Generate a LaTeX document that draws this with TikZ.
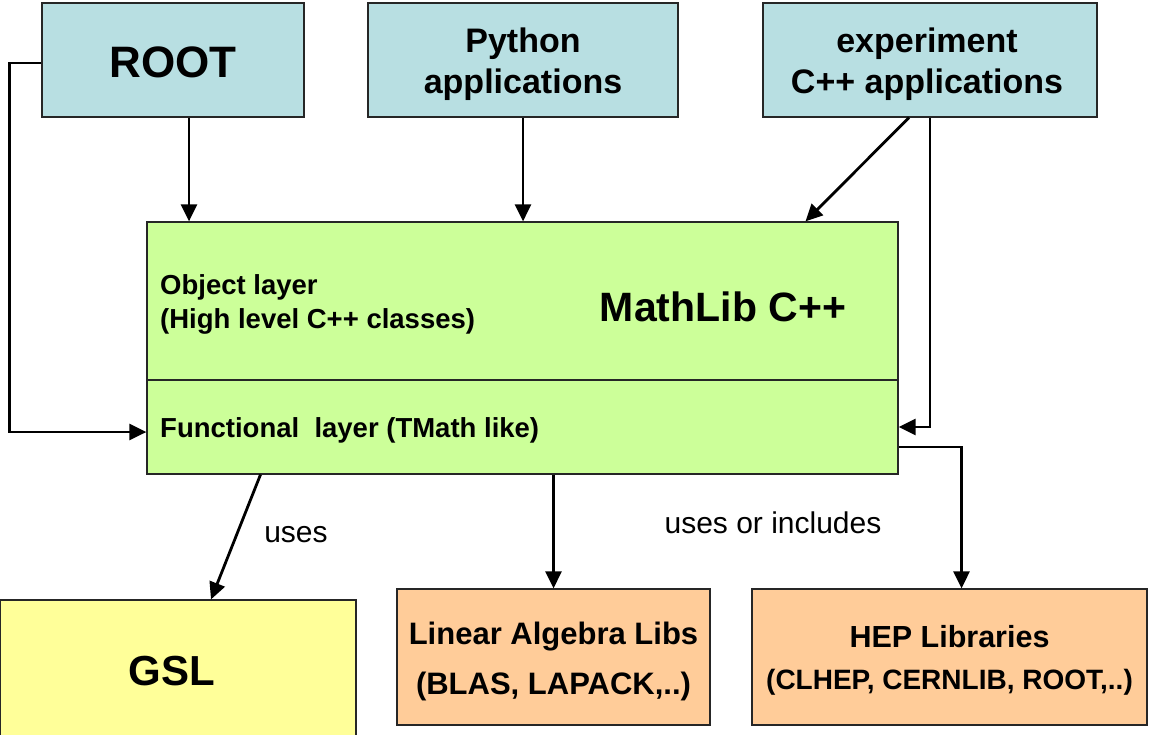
\documentclass[tikz,border=0pt]{standalone}
\usepackage{fontspec}
\setmainfont{Liberation Sans}
\usetikzlibrary{arrows.meta}
\definecolor{appblue}{HTML}{B8DFE2}
\definecolor{libgreen}{HTML}{CCFF99}
\definecolor{gslyellow}{HTML}{FFFF99}
\definecolor{extorange}{HTML}{FFCC99}
\tikzset{
  box/.style={draw=black!85, line width=1.2pt, inner sep=0pt, align=center},
  appbox/.style={box, fill=appblue, minimum height=114},
  apptext/.style={align=center, inner sep=0pt, font=\fontsize{34}{41}\selectfont\bfseries},
  layerbox/.style={box, fill=libgreen, minimum width=751},
  layertext/.style={anchor=west, align=left, inner sep=0pt, font=\fontsize{27.5}{34}\selectfont\bfseries},
  extbox/.style={box, fill=extorange, minimum height=136},
  arr/.style={line width=2.8pt, -{Triangle[length=17pt,width=16pt]}}
}
\begin{document}
\begin{tikzpicture}[x=1pt,y=-1pt]
			\useasboundingbox (0,0) rectangle (1150,735);
			\node[appbox, minimum width=262, font=\fontsize{44}{50}\selectfont\bfseries] (root) at (173,60) {};
			\node[appbox, minimum width=310] (python) at (523,60) {};
			\node[appbox, minimum width=334] (expcpp) at (930,60) {};
			\node[apptext, font=\fontsize{44}{50}\selectfont\bfseries] (roottext) at ([yshift=-2]root.center) {ROOT};
			\node[apptext] (pythontext) at ([yshift=-4]python.center) {Python\\applications};
			\node[apptext] (expcpptext) at ([yshift=-4,xshift=-3]expcpp.center) {experiment\\C++ applications};
			\node[layerbox, minimum height=158] (objlayer) at (522.5,301) {};
			\node[layerbox, minimum height=94] (funclayer) at (522.5,427) {};
			\node[layertext] (objtext) at (160,304) {Object layer\\(High level C++ classes)};
			\node[font=\fontsize{41}{47}\selectfont\bfseries] (mathlib) at (723,307) {MathLib C++};
			\node[layertext] (functext) at (160,430) {Functional\ \ layer (TMath like)};
			\node[box, fill=gslyellow, minimum width=356, minimum height=140] (gsl) at (178,670) {};
			\node[extbox, minimum width=313] (linalg) at (553.5,657) {};
			\node[extbox, minimum width=395] (heplib) at (949.5,657) {};
			\node[apptext, font=\fontsize{42}{48}\selectfont\bfseries] (gsltext) at ([xshift=-6,yshift=-1]gsl.center) {GSL};
			\node[apptext, font=\fontsize{31}{50}\selectfont\bfseries] (linalgtext) at ([yshift=-4]linalg.center) {Linear Algebra Libs\\(BLAS, LAPACK,..)};
			\node[apptext, font=\fontsize{30.5}{42}\selectfont\bfseries] (heptext) at ([yshift=-3]heplib.center) {HEP Libraries\\{\fontsize{28}{42}\selectfont(CLHEP, CERNLIB, ROOT,..)}};
			\node[font=\fontsize{30}{34}\selectfont] (uses) at (296,535) {uses};
			\node[font=\fontsize{30}{34}\selectfont] (usesinc) at (773,523) {uses or includes};
			\draw[arr] ([xshift=16]root.south) -- ([xshift=16]root.south |- objlayer.north);
			\draw[arr] (python.south) -- (python.south |- objlayer.north);
			\draw[arr] ([xshift=-21]expcpp.south) -- ([xshift=283]objlayer.north);
			\draw[arr] (expcpp.south) |- (funclayer.east);
			\draw[arr] ([yshift=-3]root.west) -- ++(-32,0) |- ([yshift=-5]funclayer.west);
			\draw[arr] ([xshift=-262]funclayer.south) -- ([xshift=33]gsl.north);
			\draw[arr] (funclayer.south -| linalg.north) -- (linalg.north);
			\draw[arr] ([yshift=-20]funclayer.east) -| ([xshift=12]heplib.north);
		\end{tikzpicture}
\end{document}
